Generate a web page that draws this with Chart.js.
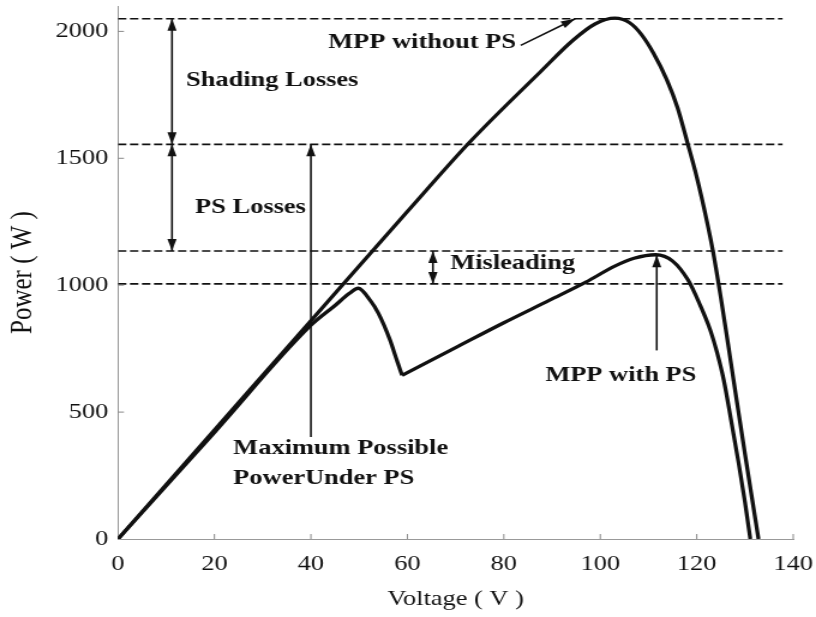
<!DOCTYPE html>
<html>
<head>
<meta charset="utf-8">
<title>P-V curves under partial shading</title>
<script src="https://cdn.jsdelivr.net/npm/chart.js@4.4.1/dist/chart.umd.min.js"></script>
<style>
    html, body { margin: 0; padding: 0; background: #fff; }
</style>
</head>
<body>
<!-- the source figure is stretched sideways, so the canvas is drawn at 680 wide and shown at 816 -->
<canvas id="pvChart" width="680" height="617" style="width:816px;height:617px;display:block"></canvas>
<script>
// curve without partial shading
const voltNoPS  = [0, 20, 40, 60, 73, 87.6, 94.4, 99, 103, 106, 108.3, 111, 113.8, 116, 118, 120, 122, 123.4, 125, 126.5, 128, 130, 131, 132.8]
const powerNoPS = [0, 430, 860, 1290, 1565, 1841, 1966, 2030, 2052, 2035, 1993, 1915, 1809, 1700, 1566, 1426, 1261, 1130, 950, 767, 580, 335, 215, 0]

// curve with partial shading, split at the sharp corner
const voltPSa  = [0, 20, 40, 45, 48, 49.8, 52.3, 54, 56.4, 57.8, 58.9]
const powerPSa = [0, 420, 842, 920, 968, 988, 940, 889, 784, 705, 645]
const voltPSb  = [58.9, 70, 80, 89.5, 97, 103, 107, 111.5, 115, 118.2, 120.5, 122.8, 124.2, 125.6, 127.1, 128.7, 130, 131.1]
const powerPSb = [645, 754, 852, 941, 1012, 1075, 1106, 1120, 1095, 1020, 930, 823, 735, 626, 470, 297, 145, 0]

// dashed reference levels
const refLevels = [2050, 1555, 1135, 1005]
const refSpan = [0, 137.8]

// arrows (voltage, power)
const arrowFromV = [11.2, 11.2, 65.3, 40, 111.7, 83.5]
const arrowFromW = [1555, 1135, 1005, 402, 743, 1945]
const arrowToV   = [11.2, 11.2, 65.3, 40, 111.7, 94.8]
const arrowToW   = [2050, 1555, 1135, 1555, 1118, 2050]
const arrowBoth  = [true, true, true, false, false, false]

// notes
const noteText = ['Shading Losses', 'PS Losses', 'MPP without PS', 'Maximum Possible', 'PowerUnder PS', 'Misleading', 'MPP with PS']
const noteV = [14.1, 16, 43.6, 23.9, 23.9, 68.9, 88.6]
const noteW = [1808, 1307, 1955, 358, 240, 1087, 645]

const xTicks = [0, 20, 40, 60, 80, 100, 120, 140]
const yTicks = [0, 500, 1000, 1500, 2000]

const SERIF = '"Liberation Serif", "Times New Roman", serif'
const INK = '#111'

function pts(xs, ys) {
    return xs.map((x, i) => ({ x: x, y: ys[i] }))
}

function head(ctx, x1, y1, x2, y2) {
    const a = Math.atan2(y2 - y1, x2 - x1)
    const len = 12, half = 3.8
    ctx.beginPath()
    ctx.moveTo(x2, y2)
    ctx.lineTo(x2 - len * Math.cos(a) + half * Math.sin(a), y2 - len * Math.sin(a) - half * Math.cos(a))
    ctx.lineTo(x2 - len * Math.cos(a) - half * Math.sin(a), y2 - len * Math.sin(a) + half * Math.cos(a))
    ctx.closePath()
    ctx.fill()
}

// arrows, notes and the small inward tick marks
const notesPlugin = {
    id: 'notes',
    afterDatasetsDraw(chart) {
        const ctx = chart.ctx
        const xs = chart.scales.x, ys = chart.scales.y
        const area = chart.chartArea
        ctx.save()

        ctx.strokeStyle = '#888'
        ctx.lineWidth = 1
        ctx.beginPath()
        xTicks.slice(1).forEach(v => {
            const px = xs.getPixelForValue(v)
            ctx.moveTo(px, area.bottom)
            ctx.lineTo(px, area.bottom - 5)
        })
        yTicks.slice(1).forEach(v => {
            const py = ys.getPixelForValue(v)
            ctx.moveTo(area.left, py)
            ctx.lineTo(area.left + 5, py)
        })
        ctx.stroke()

        ctx.strokeStyle = INK
        ctx.fillStyle = INK
        ctx.lineWidth = 1.6
        arrowFromV.forEach((v, i) => {
            const x1 = xs.getPixelForValue(v), y1 = ys.getPixelForValue(arrowFromW[i])
            const x2 = xs.getPixelForValue(arrowToV[i]), y2 = ys.getPixelForValue(arrowToW[i])
            ctx.beginPath()
            ctx.moveTo(x1, y1)
            ctx.lineTo(x2, y2)
            ctx.stroke()
            head(ctx, x1, y1, x2, y2)
            if (arrowBoth[i]) head(ctx, x2, y2, x1, y1)
        })

        ctx.font = 'bold 22px ' + SERIF
        ctx.textAlign = 'left'
        ctx.textBaseline = 'middle'
        noteText.forEach((t, i) => {
            ctx.fillText(t, xs.getPixelForValue(noteV[i]), ys.getPixelForValue(noteW[i]))
        })
        ctx.restore()
    }
}

const curveStyle = { borderColor: INK, borderWidth: 3.3, pointRadius: 0, cubicInterpolationMode: 'monotone', fill: false }

const datasets = [
    Object.assign({ data: pts(voltNoPS, powerNoPS) }, curveStyle),
    Object.assign({ data: pts(voltPSa, powerPSa) }, curveStyle),
    Object.assign({ data: pts(voltPSb, powerPSb) }, curveStyle)
]
refLevels.forEach(level => {
    datasets.push({
        data: refSpan.map(v => ({ x: v, y: level })),
        borderColor: INK,
        borderWidth: 1.6,
        borderDash: [7, 3],
        pointRadius: 0
    })
})

new Chart(document.getElementById('pvChart').getContext('2d'), {
    type: 'line',
    data: { datasets: datasets },
    options: {
        responsive: false,
        animation: false,
        layout: { padding: { top: 6, right: 19, bottom: 0, left: 0 } },
        plugins: { legend: { display: false }, tooltip: { enabled: false } },
        scales: {
            x: {
                type: 'linear',
                min: 0,
                max: 140,
                ticks: { color: INK, padding: 12, maxRotation: 0, autoSkip: false, font: { family: SERIF, size: 22 } },
                afterBuildTicks: s => { s.ticks = xTicks.map(v => ({ value: v })) },
                grid: { display: false, drawTicks: false },
                border: { color: '#999', width: 1 },
                title: { display: true, text: 'Voltage ( V )', color: INK, font: { family: SERIF, size: 22 }, padding: { top: 0, bottom: 5 } },
                afterFit: s => {
                    s.height = 78
                    s.paddingLeft = 0
                    s.paddingRight = 0
                }
            },
            y: {
                type: 'linear',
                min: 0,
                max: 2100,
                ticks: {
                    color: INK,
                    padding: 8,
                    autoSkip: false,
                    font: { family: SERIF, size: 22 },
                    callback: v => String(v)
                },
                afterBuildTicks: s => { s.ticks = yTicks.map(v => ({ value: v })) },
                grid: { display: false, drawTicks: false },
                border: { color: '#999', width: 1 },
                title: { display: true, text: 'Power ( W )', color: INK, font: { family: SERIF, size: 25 }, padding: { top: 4, bottom: 0 } },
                afterFit: s => {
                    s.width = 98.3
                    s.paddingTop = 0
                    s.paddingBottom = 0
                }
            }
        }
    },
    plugins: [notesPlugin]
})
</script>
</body>
</html>
